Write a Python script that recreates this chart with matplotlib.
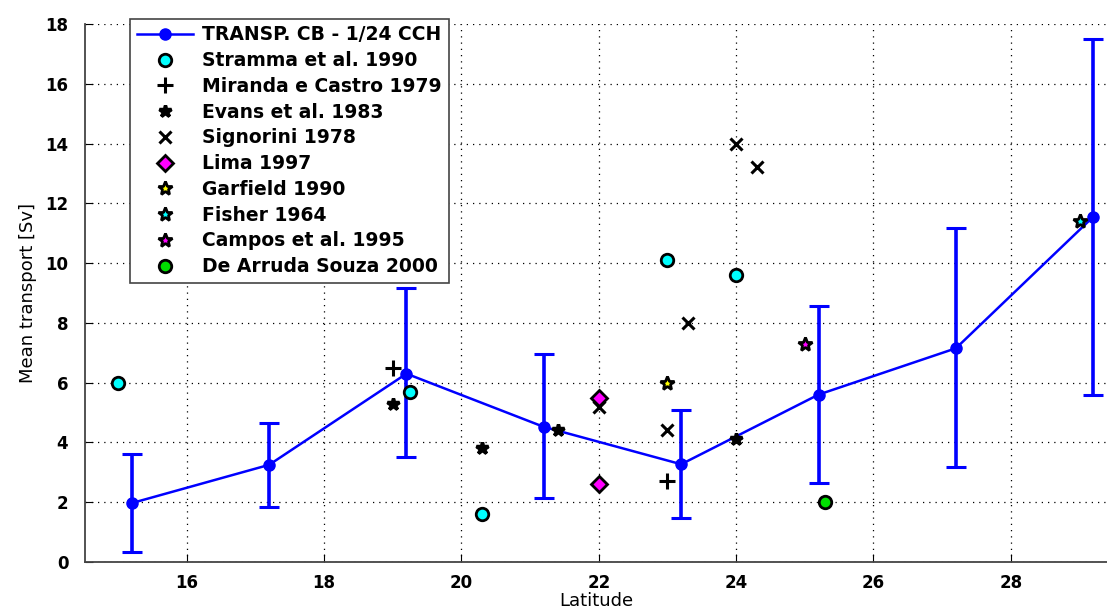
import numpy as np
import matplotlib
matplotlib.use('Agg')
import matplotlib.pyplot as plt

# modelo 1/24 - transporte medio da Corrente do Brasil
lat_model = [15.2, 17.2, 19.2, 21.2, 23.2, 25.2, 27.2, 29.2]
transp_model = [1.97, 3.25, 6.3, 4.52, 3.27, 5.6, 7.15, 11.55]
err_low = [0.33, 1.85, 3.52, 2.15, 1.48, 2.65, 3.17, 5.6]
err_high = [3.6, 4.65, 9.15, 6.95, 5.08, 8.55, 11.18, 17.5]

# observacoes
stramma_lat = [15.0, 19.25, 20.3, 23.0, 24.0]
stramma_v = [6.0, 5.7, 1.6, 10.1, 9.6]
miranda_lat = [19.0, 23.0]
miranda_v = [6.5, 2.7]
evans_lat = [19.0, 20.3, 21.4, 24.0]
evans_v = [5.3, 3.8, 4.4, 4.1]
signorini_lat = [22.0, 23.0, 23.3, 24.0, 24.3]
signorini_v = [5.2, 4.4, 8.0, 14.0, 13.2]
lima_lat = [22.0, 22.0]
lima_v = [5.5, 2.6]
garfield_lat = [23.0]
garfield_v = [6.0]
fisher_lat = [29.0]
fisher_v = [11.4]
campos_lat = [25.0]
campos_v = [7.3]
souza_lat = [25.3]
souza_v = [2.0]

fig = plt.figure(figsize=(11.07, 6.10), dpi=100)
ax = fig.add_axes([0.0768, 0.0787, 0.9232, 0.882])

yerr = [np.array(transp_model) - np.array(err_low), np.array(err_high) - np.array(transp_model)]
ax.errorbar(lat_model, transp_model, yerr=yerr, fmt='none', ecolor='blue',
            elinewidth=2.6, capsize=7, capthick=2.2, zorder=3)
ax.plot(lat_model, transp_model, '-o', color='blue', lw=1.8, ms=8,
        label='TRANSP. CB - 1/24 CCH', zorder=4)

ax.plot(stramma_lat, stramma_v, 'o', mfc='cyan', mec='black', mew=2, ms=9,
        ls='none', label='Stramma et al. 1990', zorder=5)
ax.plot(miranda_lat, miranda_v, '+', color='black', mew=2.2, ms=12,
        ls='none', label='Miranda e Castro 1979', zorder=5)
ax.plot(evans_lat, evans_v, '*', color='black', mew=2.5, ms=9,
        ls='none', label='Evans et al. 1983', zorder=5)
ax.plot(signorini_lat, signorini_v, 'x', color='black', mew=2.2, ms=8,
        ls='none', label='Signorini 1978', zorder=5)
ax.plot(lima_lat, lima_v, 'D', mfc='magenta', mec='black', mew=2, ms=8,
        ls='none', label='Lima 1997', zorder=5)
ax.plot(garfield_lat, garfield_v, '*', mfc='yellow', mec='black', mew=2, ms=10,
        ls='none', label='Garfield 1990', zorder=5)
ax.plot(fisher_lat, fisher_v, '*', mfc='cyan', mec='black', mew=2, ms=10,
        ls='none', label='Fisher 1964', zorder=5)
ax.plot(campos_lat, campos_v, '*', mfc='magenta', mec='black', mew=2, ms=10,
        ls='none', label='Campos et al. 1995', zorder=5)
ax.plot(souza_lat, souza_v, 'o', mfc='#00e000', mec='black', mew=2, ms=9,
        ls='none', label='De Arruda Souza 2000', zorder=5)

ax.set_xlim(14.52, 29.4)
ax.set_ylim(0, 18)
ax.set_xticks(np.arange(16, 29, 2))
ax.set_yticks(np.arange(0, 19, 2))
ax.grid(True, ls=(0, (1, 4)), color='black', lw=0.9)
ax.set_axisbelow(True)
ax.tick_params(direction='in', length=6, labelsize=12)
ax.tick_params(axis='x', pad=9)
ax.tick_params(axis='y', pad=12)
for lab in ax.get_xticklabels() + ax.get_yticklabels():
    lab.set_fontweight('bold')
for s in ['top', 'right']:
    ax.spines[s].set_visible(False)
ax.spines['left'].set_linewidth(1.3)
ax.spines['bottom'].set_linewidth(1.3)
ax.spines['left'].set_color('#444444')
ax.spines['bottom'].set_color('#444444')

ax.set_xlabel('Latitude', fontsize=13, labelpad=0)
ax.set_ylabel('Mean transport [Sv]', fontsize=13, labelpad=6)

leg = ax.legend(loc='upper left', bbox_to_anchor=(0.035, 1.027),
                prop={'size': 13.5, 'weight': 'bold'},
                frameon=True, fancybox=False, edgecolor='#444444',
                framealpha=1, borderpad=0.35, labelspacing=0.36,
                handlelength=3.0, handletextpad=0.5, numpoints=1)
leg.get_frame().set_linewidth(1.2)

fig.savefig('out.png', dpi=100)
